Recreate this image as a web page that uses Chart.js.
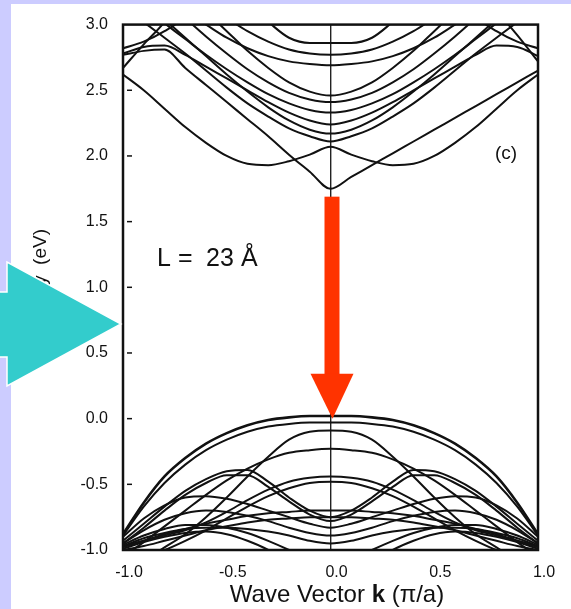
<!DOCTYPE html>
<html>
<head>
<meta charset="utf-8">
<script src="https://cdn.jsdelivr.net/npm/chart.js@4.4.1/dist/chart.umd.min.js"></script>
<style>
  html, body { margin: 0; padding: 0; background: #fff; }
  #wrap { width: 571px; height: 609px; }
</style>
</head>
<body>
<div id="wrap"><canvas id="band_graph"></canvas></div>
<script>
// wave vector samples, k in units of pi/a
const kPoints = [-1.0, -0.9, -0.8, -0.7, -0.6, -0.5, -0.4, -0.3, -0.2, -0.1, 0.0,
                 0.1, 0.2, 0.3, 0.4, 0.5, 0.6, 0.7, 0.8, 0.9, 1.0];

// conduction subbands (eV)
const condC1  = [2.77,2.80,2.81,2.67,2.54,2.41,2.28,2.15,2.01,1.88,1.75,1.84,1.93,2.02,2.11,2.20,2.29,2.38,2.47,2.56,2.65];
const condC2  = [2.62,2.50,2.36,2.22,2.10,2.00,1.94,1.93,1.96,2.01,2.07,2.01,1.96,1.93,1.94,2.00,2.10,2.22,2.36,2.50,2.62];
const condC3  = [3.15,3.02,2.90,2.78,2.65,2.52,2.40,2.30,2.21,2.15,2.11,2.15,2.21,2.30,2.40,2.52,2.65,2.78,2.90,3.02,3.15];
const condC4  = [2.78,2.83,2.84,2.77,2.68,2.59,2.50,2.41,2.33,2.27,2.24,2.27,2.33,2.41,2.50,2.59,2.68,2.77,2.84,2.83,2.76];
const condC5  = [3.25,3.13,3.01,2.89,2.77,2.66,2.56,2.47,2.40,2.35,2.33,2.35,2.40,2.47,2.56,2.66,2.77,2.89,3.01,3.13,3.25];
const condC6  = [3.50,3.35,3.20,3.05,2.91,2.78,2.66,2.56,2.48,2.43,2.41,2.43,2.48,2.56,2.66,2.78,2.91,3.05,3.20,3.35,3.50];
const condC7  = [3.70,3.55,3.40,3.25,3.10,2.95,2.80,2.67,2.56,2.49,2.46,2.49,2.56,2.67,2.80,2.95,3.10,3.25,3.40,3.55,3.70];
const condC8  = [3.40,3.30,3.20,3.10,3.00,2.90,2.82,2.76,2.72,2.70,2.69,2.70,2.72,2.76,2.82,2.90,3.00,3.10,3.20,3.30,3.40];
const condC9  = [3.55,3.45,3.35,3.25,3.15,3.05,2.95,2.87,2.81,2.78,2.77,2.78,2.81,2.87,2.95,3.05,3.15,3.25,3.35,3.45,3.55];
const condC10 = [4.05,3.90,3.75,3.60,3.45,3.30,3.15,3.02,2.90,2.86,2.86,2.86,2.90,3.02,3.15,3.30,3.45,3.60,3.75,3.90,4.05];
const condC11 = [2.82,2.87,2.95,3.06,3.25,3.38,3.50,3.60,3.70,3.80,3.90,3.80,3.70,3.60,3.50,3.38,3.25,3.06,2.95,2.87,2.82];
const condC12 = [2.67,2.85,3.02,3.25,3.40,3.60,3.80,3.90,4.00,4.10,4.20,4.10,4.00,3.90,3.80,3.60,3.40,3.25,3.10,2.92,2.72];
const condC13 = [3.32,3.18,3.04,2.90,2.76,2.62,2.49,2.37,2.27,2.20,2.17,2.20,2.27,2.37,2.49,2.62,2.76,2.90,3.04,3.18,3.32];

// valence subbands (eV)
const valV1  = [-0.88,-0.64,-0.44,-0.30,-0.19,-0.11,-0.05,-0.01,0.01,0.02,0.02,0.02,0.01,-0.01,-0.05,-0.11,-0.19,-0.30,-0.44,-0.64,-0.88];
const valV1b = [-0.89,-0.67,-0.49,-0.35,-0.24,-0.16,-0.10,-0.06,-0.04,-0.03,-0.03,-0.03,-0.04,-0.06,-0.10,-0.16,-0.24,-0.35,-0.49,-0.67,-0.89];
const valV2  = [-1.15,-1.08,-0.98,-0.88,-0.75,-0.60,-0.44,-0.29,-0.16,-0.10,-0.09,-0.10,-0.16,-0.29,-0.44,-0.60,-0.75,-0.88,-0.98,-1.08,-1.15];
const valV3  = [-1.05,-0.94,-0.82,-0.70,-0.58,-0.47,-0.38,-0.31,-0.26,-0.24,-0.23,-0.24,-0.26,-0.31,-0.38,-0.47,-0.58,-0.70,-0.82,-0.94,-1.05];
const valV4  = [-0.93,-0.80,-0.67,-0.55,-0.46,-0.40,-0.39,-0.48,-0.60,-0.70,-0.75,-0.70,-0.60,-0.48,-0.39,-0.40,-0.46,-0.55,-0.67,-0.80,-0.93];
const valV4b = [-0.95,-0.83,-0.70,-0.58,-0.49,-0.43,-0.43,-0.52,-0.63,-0.73,-0.78,-0.73,-0.63,-0.52,-0.43,-0.43,-0.49,-0.58,-0.70,-0.83,-0.95];
const valV5  = [-0.98,-0.93,-0.89,-0.85,-0.79,-0.71,-0.62,-0.54,-0.48,-0.45,-0.44,-0.45,-0.48,-0.54,-0.62,-0.71,-0.79,-0.85,-0.89,-0.93,-0.98];
const valV6  = [-1.10,-1.05,-1.00,-0.93,-0.85,-0.76,-0.67,-0.59,-0.53,-0.49,-0.48,-0.49,-0.53,-0.59,-0.67,-0.76,-0.85,-0.93,-1.00,-1.05,-1.10];
const valV7  = [-0.97,-0.93,-0.88,-0.84,-0.80,-0.77,-0.74,-0.72,-0.71,-0.70,-0.70,-0.70,-0.71,-0.72,-0.74,-0.77,-0.80,-0.84,-0.88,-0.93,-0.97];
const valV8  = [-1.00,-0.97,-0.93,-0.89,-0.85,-0.82,-0.79,-0.77,-0.76,-0.75,-0.75,-0.75,-0.76,-0.77,-0.79,-0.82,-0.85,-0.89,-0.93,-0.97,-1.00];
const valV9  = [-0.90,-0.76,-0.66,-0.60,-0.59,-0.61,-0.65,-0.70,-0.75,-0.80,-0.83,-0.80,-0.75,-0.70,-0.65,-0.61,-0.59,-0.60,-0.66,-0.76,-0.90];
const valV10 = [-0.95,-0.85,-0.77,-0.72,-0.70,-0.71,-0.74,-0.78,-0.83,-0.87,-0.89,-0.87,-0.83,-0.78,-0.74,-0.71,-0.70,-0.72,-0.77,-0.85,-0.95];
const valV11 = [-0.97,-0.91,-0.87,-0.84,-0.83,-0.83,-0.84,-0.86,-0.89,-0.93,-0.95,-0.93,-0.89,-0.86,-0.84,-0.83,-0.83,-0.84,-0.87,-0.91,-0.97];
const valV12 = [-0.96,-0.89,-0.84,-0.81,-0.81,-0.83,-0.87,-0.93,-1.00,-1.08,-1.15,-1.08,-1.00,-0.93,-0.87,-0.83,-0.81,-0.81,-0.84,-0.89,-0.96];
const valV13 = [-0.99,-0.94,-0.90,-0.87,-0.86,-0.88,-0.93,-1.00,-1.10,-1.20,-1.30,-1.20,-1.10,-1.00,-0.93,-0.88,-0.86,-0.87,-0.90,-0.94,-0.99];

const conductionBands = [condC1, condC2, condC3, condC4, condC5, condC6, condC7, condC8, condC9, condC10, condC11, condC12, condC13];
const valenceBands = [valV1, valV1b, valV2, valV3, valV4, valV4b, valV5, valV6, valV7, valV8, valV9, valV10, valV11, valV12, valV13];

// axis ticks
const energyTicks = [-1.0, -0.5, 0.0, 0.5, 1.0, 1.5, 2.0, 2.5, 3.0];
const kTicks = [-1.0, -0.5, 0.0, 0.5, 1.0];

const LAVENDER = '#ccccff';
const INK = '#111';
const FONT = '"Liberation Sans", Arial, sans-serif';

function toPoints(band) {
  return band.map((e, i) => ({x: kPoints[i], y: e}));
}

const pagePlugin = {
  id: 'page',
  beforeDraw(chart) {
    const ctx = chart.ctx;
    ctx.save();
    ctx.fillStyle = LAVENDER;
    ctx.fillRect(0, 0, chart.width, chart.height);
    ctx.fillStyle = '#fff';
    ctx.fillRect(11, 4, chart.width - 11, chart.height - 4);
    ctx.restore();
  },
  afterDraw(chart) {
    const ctx = chart.ctx;
    const a = chart.chartArea;
    const xs = chart.scales.x, ys = chart.scales.y;
    ctx.save();

    // frame
    ctx.strokeStyle = INK;
    ctx.lineWidth = 2.5;
    ctx.strokeRect(a.left, a.top, a.right - a.left, a.bottom - a.top);

    // small inward ticks on the energy axis
    ctx.lineWidth = 1.5;
    energyTicks.slice(1, -1).forEach(v => {
      const y = ys.getPixelForValue(v);
      ctx.beginPath();
      ctx.moveTo(a.left + 4, y);
      ctx.lineTo(a.left + 9, y);
      ctx.stroke();
    });

    // texts
    ctx.fillStyle = INK;
    ctx.font = '25px ' + FONT;
    ctx.textBaseline = 'alphabetic';
    ctx.textAlign = 'left';
    ctx.fillText('L', 157, 266);
    ctx.fillText('=', 178, 266);
    ctx.fillText('23', 206, 266);
    ctx.fillText('Å', 241, 266);
    ctx.font = '19px ' + FONT;
    ctx.fillText('(c)', 495, 159);

    // x axis title with bold k
    const t1 = 'Wave Vector ', t2 = 'k', t3 = ' (π/a)';
    const fN = '24px ' + FONT;
    const fB = 'bold 24px ' + FONT;
    ctx.font = fN; const w1 = ctx.measureText(t1).width, w3 = ctx.measureText(t3).width;
    ctx.font = fB; const w2 = ctx.measureText(t2).width;
    const x0 = 337 - (w1 + w2 + w3) / 2;
    ctx.font = fN; ctx.fillText(t1, x0, 602);
    ctx.font = fB; ctx.fillText(t2, x0 + w1, 602);
    ctx.font = fN; ctx.fillText(t3, x0 + w1 + w2, 602);

    // y axis title (mostly hidden behind the cyan arrow)
    ctx.save();
    ctx.translate(41, 229);
    ctx.rotate(-Math.PI / 2);
    ctx.font = '19px ' + FONT;
    ctx.textAlign = 'right';
    ctx.textBaseline = 'middle';
    ctx.fillText('Energy  (eV)', 0, 0);
    ctx.restore();

    // red arrow: conduction minimum down to valence maximum
    const cx = xs.getPixelForValue(0) + 2;
    const yTop = ys.getPixelForValue(1.69);
    const yTip = ys.getPixelForValue(0.0);
    const yHead = yTip - 45;
    ctx.fillStyle = '#ff3300';
    ctx.fillRect(cx - 8, yTop, 15, yHead - yTop + 1);
    ctx.beginPath();
    ctx.moveTo(cx - 22, yHead);
    ctx.lineTo(cx + 21, yHead);
    ctx.lineTo(cx, yTip);
    ctx.closePath();
    ctx.fill();

    // cyan pointer arrow on the left
    ctx.beginPath();
    ctx.moveTo(-5, 292);
    ctx.lineTo(7, 292);
    ctx.lineTo(7, 262);
    ctx.lineTo(121, 324);
    ctx.lineTo(7, 386);
    ctx.lineTo(7, 357);
    ctx.lineTo(-5, 357);
    ctx.closePath();
    ctx.fillStyle = '#33cccc';
    ctx.fill();
    ctx.strokeStyle = '#fff';
    ctx.lineWidth = 1.5;
    ctx.stroke();

    ctx.restore();
  }
};

document.addEventListener('DOMContentLoaded', function () {
  const el = document.getElementById('band_graph');
  if (el == null) return;

  const datasets = conductionBands.concat(valenceBands).map(band => ({
    data: toPoints(band),
    borderColor: INK,
    borderWidth: band === valV1 ? 2.6 : 2,
    pointRadius: 0,
    fill: false,
    cubicInterpolationMode: 'monotone'
  }));

  new Chart(el, {
    type: 'line',
    data: {datasets: datasets},
    options: {
      responsive: true,
      maintainAspectRatio: false,
      animation: false,
      events: [],
      layout: {padding: {left: 0, right: 33, top: 16, bottom: 0}},
      plugins: {legend: {display: false}, tooltip: {enabled: false}},
      scales: {
        x: {
          type: 'linear',
          min: -1,
          max: 1,
          afterBuildTicks: scale => { scale.ticks = kTicks.map(v => ({value: v})); },
          afterFit: scale => { scale.height = 59; },
          border: {display: false},
          grid: {
            drawTicks: false,
            color: ctx => (ctx.tick && ctx.tick.value === 0) ? '#222' : 'rgba(0,0,0,0)',
            lineWidth: 1.4
          },
          ticks: {
            padding: 13,
            labelOffset: 6,
            color: INK,
            font: {family: FONT, size: 16},
            callback: v => Number(v).toFixed(1),
            maxRotation: 0
          }
        },
        y: {
          type: 'linear',
          min: -1,
          max: 3,
          afterBuildTicks: scale => { scale.ticks = energyTicks.map(v => ({value: v})); },
          afterFit: scale => { scale.width = 123; },
          border: {display: false},
          grid: {display: false, drawTicks: false},
          ticks: {
            padding: 15,
            color: INK,
            font: {family: FONT, size: 16},
            callback: v => Number(v).toFixed(1)
          }
        }
      }
    },
    plugins: [pagePlugin]
  });
});
</script>
</body>
</html>
